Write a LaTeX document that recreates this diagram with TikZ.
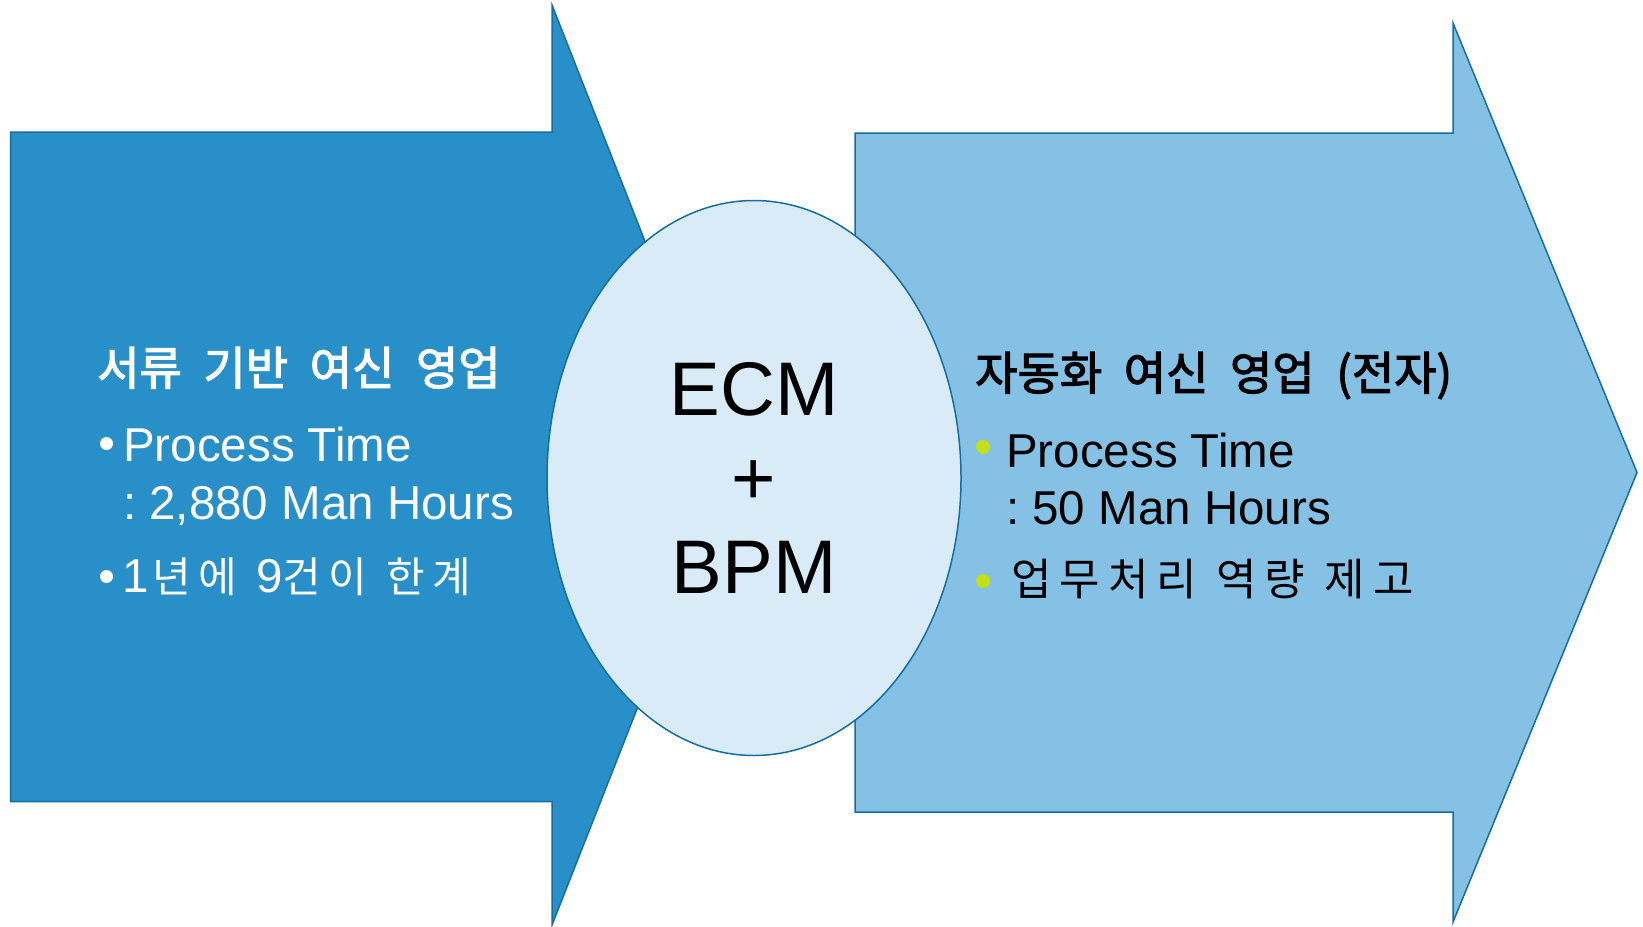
\documentclass[tikz,border=0pt]{standalone}
\usepackage{fontspec}
\setmainfont{Liberation Sans}
\newfontfamily\krtitle{Noto Sans CJK KR}[FakeBold=2.5, WordSpace=2.1]
\newfontfamily\krl{Noto Sans CJK KR}[LetterSpace=18, WordSpace=1.5]
\newfontfamily\krs{Noto Sans CJK KR}[LetterSpace=18, WordSpace=1.1]
\usetikzlibrary{shapes.geometric}
\definecolor{darkfill}{RGB}{41,143,200}
\definecolor{lightfill}{RGB}{132,193,228}
\definecolor{hubfill}{RGB}{216,235,246}
\definecolor{edgeblue}{RGB}{22,110,160}
\definecolor{lime}{RGB}{196,224,20}
\tikzset{
  bigarrowL/.style={fill=darkfill, draw=edgeblue, line width=1.5pt, line join=miter},
  bigarrowR/.style={fill=lightfill, draw=edgeblue, line width=1.5pt, line join=miter},
  hubstyle/.style={ellipse, fill=hubfill, draw=edgeblue, line width=1.5pt,
     minimum width=414pt, minimum height=555pt, inner sep=0pt, align=center,
     font=\fontsize{76}{89}\selectfont},
  titletext/.style={anchor=base west, inner sep=0pt, font=\krtitle\fontsize{46}{55}\selectfont},
  bodytext/.style={anchor=base west, inner sep=0pt, font=\frenchspacing\fontsize{47.5}{57}\selectfont},
  krbody/.style={anchor=base west, inner sep=0pt},
  wbullet/.style={circle, fill=white, inner sep=0pt, minimum size=13pt},
  gbullet/.style={circle, fill=lime, inner sep=0pt, minimum size=14pt}
}
\begin{document}
\begin{tikzpicture}[x=1pt,y=-1pt]
\useasboundingbox (0,0) rectangle (1643,926);
% left arrow
\draw[bigarrowL] (10.5,132) -- (552,132) -- (552,5) -- (733,465) -- (552,925) -- (552,801.5) -- (10.5,801.5) -- cycle;
% right arrow
\draw[bigarrowR] (855,133) -- (1453,133) -- (1453,23) -- (1637,472.5) -- (1453,922) -- (1453,812) -- (855,812) -- cycle;
% hub
\node[hubstyle] (hub) at (754,478) {ECM\\+\\BPM};
% left texts
\node[titletext, text=white] (ltitle) at (97,385) {서류 기반 여신 영업};
\node[wbullet] (lb1) at (106.5,443.5) {};
\node[bodytext, text=white] (l1) at (123,461) {Process Time};
\node[bodytext, text=white] (l2) at (123,519) {: 2,880 Man Hours};
\node[wbullet] (lb2) at (106.5,576.5) {};
\node[krbody, text=white, font=\fontsize{47.5}{57}\selectfont] (l3) at (122,592) {1\hspace{4pt}{\krl\fontsize{42}{50}\selectfont 년에 }9{\krl\fontsize{42}{50}\selectfont 건이 한계}};
% right texts
\node[titletext, text=black] (rtitle) at (975,390) {자동화 여신 영업 (전자)};
\node[gbullet] (rb1) at (983,447) {};
\node[bodytext, text=black] (r1) at (1006,467) {Process Time};
\node[bodytext, text=black] (r2) at (1006,524) {: 50 Man Hours};
\node[gbullet] (rb2) at (983,581) {};
\node[krbody, text=black, font=\krs\fontsize{44}{52}\selectfont] (r3) at (1011,595) {업무처리 역량 제고};
\end{tikzpicture}
\end{document}
